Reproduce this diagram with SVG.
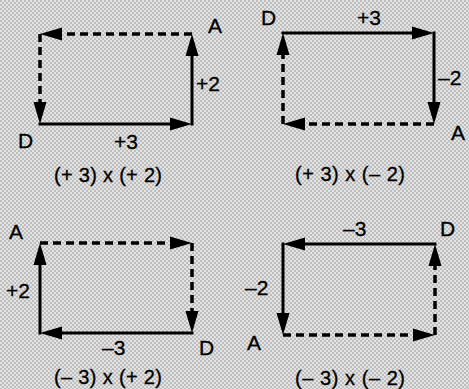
<svg xmlns="http://www.w3.org/2000/svg" width="469" height="389" viewBox="0 0 469 389">
<defs>
<pattern id="screen" width="4" height="4" patternUnits="userSpaceOnUse">
<rect width="4" height="4" fill="#e4e4e4"/>
<circle cx="1" cy="1" r="0.8" fill="#8c8c8c"/>
<circle cx="3" cy="3" r="0.8" fill="#8c8c8c"/>
</pattern>
<marker id="head" markerUnits="userSpaceOnUse" markerWidth="24" markerHeight="14" viewBox="0 0 24 14" refX="12" refY="7" orient="auto">
<path d="M0,0.5 L22,7 L0,13.5 Z" fill="#000"/>
</marker>
</defs>
<style>
.solid{fill:none;stroke:#000;stroke-width:3;stroke-linecap:square;marker-end:url(#head)}
.dash{fill:none;stroke:#000;stroke-width:3.5;stroke-dasharray:8 5;marker-end:url(#head)}
text{font-family:"Liberation Sans",Arial,Helvetica,sans-serif;font-size:21px;fill:#000;stroke:#000;stroke-width:0.3}
.cap{text-anchor:middle;font-size:20px}
</style>
<rect width="469" height="389" fill="url(#screen)"/>

<g id="panel1">
<g id="p1-connectors">
<path class="solid" d="M40,124 H182"/>
<path class="solid" d="M192,124 V44"/>
<path class="dash" d="M192,34 H50"/>
<path class="dash" d="M40,34 V114"/>
</g>
<g id="p1-A"><text x="208" y="33">A</text></g>
<g id="p1-D"><text x="18" y="148">D</text></g>
<text x="196" y="91">+2</text>
<text x="114" y="149">+3</text>
<text class="cap" x="108" y="182" textLength="108" lengthAdjust="spacing">(+ 3) x (+ 2)</text>
</g>

<g id="panel2">
<g id="p2-connectors">
<path class="solid" d="M283,33 H424"/>
<path class="solid" d="M434,33 V114"/>
<path class="dash" d="M434,124 H293"/>
<path class="dash" d="M283,124 V43"/>
</g>
<g id="p2-D"><text x="261" y="25">D</text></g>
<g id="p2-A"><text x="451" y="140">A</text></g>
<text x="357" y="25">+3</text>
<text x="438" y="85">–2</text>
<text class="cap" x="350" y="181" textLength="110" lengthAdjust="spacing">(+ 3) x (– 2)</text>
</g>

<g id="panel3">
<g id="p3-connectors">
<path class="solid" d="M192,333 H50"/>
<path class="solid" d="M40,333 V253"/>
<path class="dash" d="M40,243 H182"/>
<path class="dash" d="M192,243 V323"/>
</g>
<g id="p3-A"><text x="9" y="239">A</text></g>
<g id="p3-D"><text x="199" y="355">D</text></g>
<text x="6" y="298">+2</text>
<text x="102" y="355">–3</text>
<text class="cap" x="108" y="384" textLength="108" lengthAdjust="spacing">(– 3) x (+ 2)</text>
</g>

<g id="panel4">
<g id="p4-connectors">
<path class="solid" d="M435,244 H293"/>
<path class="solid" d="M283,244 V325"/>
<path class="dash" d="M283,335 H425"/>
<path class="dash" d="M435,335 V254"/>
</g>
<g id="p4-D"><text x="440" y="236">D</text></g>
<g id="p4-A"><text x="247" y="350">A</text></g>
<text x="343" y="236">–3</text>
<text x="245" y="295">–2</text>
<text class="cap" x="350" y="385" textLength="110" lengthAdjust="spacing">(– 3) x (– 2)</text>
</g>
</svg>
